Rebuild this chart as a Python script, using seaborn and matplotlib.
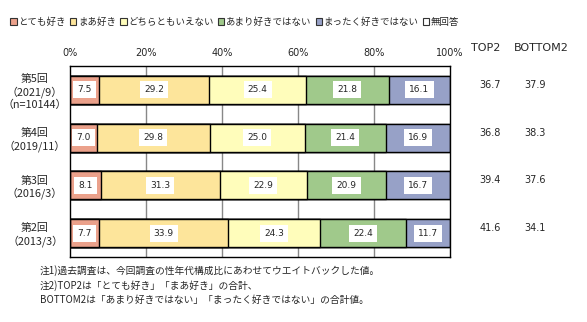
import matplotlib
matplotlib.use("Agg")
import matplotlib.pyplot as plt
import matplotlib.patches as mpatches
import seaborn as sns
import pandas as pd
import numpy as np

sns.set_style("white")
plt.rcParams['font.family'] = ['Noto Sans CJK JP', 'DejaVu Sans']

rounds = ["第5回\n（2021/9）\n（n=10144）", "第4回\n（2019/11）", "第3回\n（2016/3）", "第2回\n（2013/3）"]
categories = ["とても好き", "まあ好き", "どちらともいえない", "あまり好きではない", "まったく好きではない", "無回答"]
very_like = [7.5, 7.0, 8.1, 7.7]
like = [29.2, 29.8, 31.3, 33.9]
neutral = [25.4, 25.0, 22.9, 24.3]
dislike = [21.8, 21.4, 20.9, 22.4]
strongly_dislike = [16.1, 16.9, 16.7, 11.7]
no_answer = [0.0, 0.0, 0.0, 0.0]
top2 = ["36.7", "36.8", "39.4", "41.6"]
bottom2 = ["37.9", "38.3", "37.6", "34.1"]
xticks = [0, 20, 40, 60, 80, 100]
xtick_labels = ["0%", "20%", "40%", "60%", "80%", "100%"]
notes = ["注1)過去調査は、今回調査の性年代構成比にあわせてウエイトバックした値。",
         "注2)TOP2は「とても好き」「まあ好き」の合計、",
         "BOTTOM2は「あまり好きではない」「まったく好きではない」の合計値。"]

colors = ["#EBA18B", "#FDE59B", "#FFFDBB", "#A0C98B", "#97A1C7", "#FFFFFF"]

series = [very_like, like, neutral, dislike, strongly_dislike, no_answer]
cum = np.cumsum(np.array(series), axis=0)

fig = plt.figure(figsize=(5.87, 3.22), dpi=100)
ax = fig.add_axes([70/587, 1-257/322, 380/587, 191/322])

# draw from last cumulative to first so the stacks show
for i in reversed(range(len(categories))):
    df = pd.DataFrame({"round": rounds, "end": cum[i]})
    sns.barplot(data=df, x="end", y="round", color=colors[i], width=0.586,
                edgecolor="black", linewidth=1.0, orient="h", ax=ax,
                saturation=1, zorder=2)

for i in range(5):
    for j in range(len(rounds)):
        v = series[i][j]
        cx = cum[i][j] - v / 2
        ax.text(cx, j, f"{v:.1f}", ha="center", va="center", fontsize=6.5,
                family="DejaVu Sans", zorder=5,
                bbox=dict(boxstyle="square,pad=0.45", fc="white", ec="none"))

ax.set_xlim(0, 100)
ax.set_ylim(3.5, -0.5)
ax.set_xticks(xticks)
ax.set_xticklabels(xtick_labels, fontsize=7, family="DejaVu Sans")
ax.xaxis.tick_top()
ax.tick_params(axis="x", length=0, pad=6)
ax.tick_params(axis="y", length=0, pad=0)
ax.set_yticks(range(len(rounds)))
ax.set_yticklabels(rounds, fontsize=7.8, linespacing=1.2, ha="center")
for lab in ax.get_yticklabels():
    lab.set_x(-35/380)
ax.set_xlabel("")
ax.set_ylabel("")
for x in xticks[1:-1]:
    ax.axvline(x, color="#888888", lw=1, zorder=0)
for s in ax.spines.values():
    s.set_color("black")
    s.set_linewidth(1.0)

# TOP2 / BOTTOM2 columns
fig.text(486/587, 1-48/322, "TOP2", ha="center", va="center", fontsize=8, family="DejaVu Sans")
fig.text(541/587, 1-48/322, "BOTTOM2", ha="center", va="center", fontsize=8, family="DejaVu Sans")
for j in range(len(rounds)):
    ax.annotate(top2[j], xy=(490/587, j), xycoords=("figure fraction", "data"),
                ha="center", va="bottom", fontsize=7, family="DejaVu Sans")
    ax.annotate(bottom2[j], xy=(535/587, j), xycoords=("figure fraction", "data"),
                ha="center", va="bottom", fontsize=7, family="DejaVu Sans")

# legend
handles = [mpatches.Patch(facecolor=c, edgecolor="#333333", linewidth=0.8, label=l)
           for c, l in zip(colors, categories)]
fig.legend(handles=handles, loc="upper left", bbox_to_anchor=(10/587, 1-17/322),
           ncol=6, frameon=False, fontsize=6.8, handlelength=0.7, handleheight=0.7,
           handletextpad=0.15, columnspacing=0.45, borderaxespad=0, borderpad=0)

# notes
for k, (t, y) in enumerate(zip(notes, [271, 286, 300])):
    fig.text(40/587, 1-y/322, t, ha="left", va="center", fontsize=7)

fig.savefig("out.png", dpi=100)
